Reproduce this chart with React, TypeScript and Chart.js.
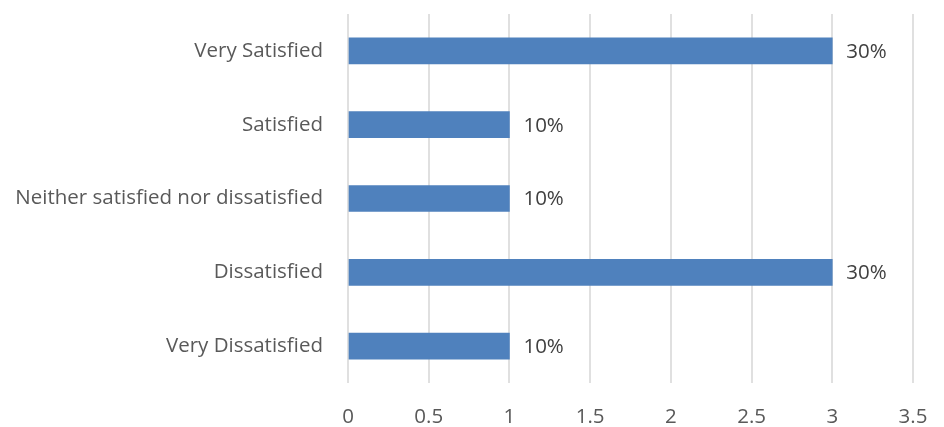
import React, { useEffect, useRef } from "react";
import { Chart, registerables } from "chart.js";

Chart.register(...registerables);

const categories = [
  "Very Satisfied",
  "Satisfied",
  "Neither satisfied nor dissatisfied",
  "Dissatisfied",
  "Very Dissatisfied",
];
const values = [3, 1, 1, 3, 1];
const valueLabels = ["30%", "10%", "10%", "30%", "10%"];
const xMin = 0;
const xMax = 3.5;
const xStep = 0.5;

const FONT = "'Open Sans', sans-serif";
const FSIZE = 20.5;

const barLabelPlugin = {
  id: "barLabels",
  afterDatasetsDraw(chart: any) {
    const ctx = chart.ctx;
    const meta = chart.getDatasetMeta(0);
    ctx.save();
    ctx.font = `${FSIZE}px ${FONT}`;
    ctx.fillStyle = "#404040";
    ctx.textAlign = "left";
    ctx.textBaseline = "middle";
    meta.data.forEach((bar: any, i: number) => {
      ctx.fillText(valueLabels[i], bar.x + 14, bar.y + 1);
    });
    ctx.restore();
  },
};

export default function App() {
  const ref = useRef<HTMLCanvasElement>(null);
  useEffect(() => {
    document.body.style.margin = "0";
    const chart = new Chart(ref.current!, {
      type: "bar",
      data: {
        labels: categories,
        datasets: [
          {
            data: values,
            backgroundColor: "#4F81BD",
            barThickness: 26,
          },
        ],
      },
      options: {
        indexAxis: "y",
        animation: false,
        responsive: false,
        maintainAspectRatio: false,
        layout: { padding: { top: 14, right: 31, left: 0, bottom: 0 } },
        plugins: { legend: { display: false }, tooltip: { enabled: false } },
        scales: {
          x: {
            min: xMin,
            max: xMax,
            ticks: {
              stepSize: xStep,
              color: "#595959",
              font: { family: FONT, size: FSIZE },
              padding: 22,
              callback: (v: any) => String(Number(v)),
            },
            grid: { color: "#e0e0e0", lineWidth: 2, drawTicks: false },
            border: { display: false },
            afterFit: (s: any) => {
              s.height = 44;
              s.paddingLeft = 0;
              s.paddingRight = 0;
            },
          },
          y: {
            ticks: {
              color: "#595959",
              font: { family: FONT, size: FSIZE },
              padding: 25,
            },
            grid: { display: false, drawTicks: false },
            border: { display: false },
            afterFit: (s: any) => {
              s.width = 348;
              s.paddingTop = 0;
              s.paddingBottom = 0;
            },
          },
        },
      },
      plugins: [barLabelPlugin],
    });
    return () => chart.destroy();
  }, []);
  return (
    <div style={{ width: 944, height: 427 }}>
      <canvas ref={ref} width={944} height={427} style={{ display: "block" }} />
    </div>
  );
}
